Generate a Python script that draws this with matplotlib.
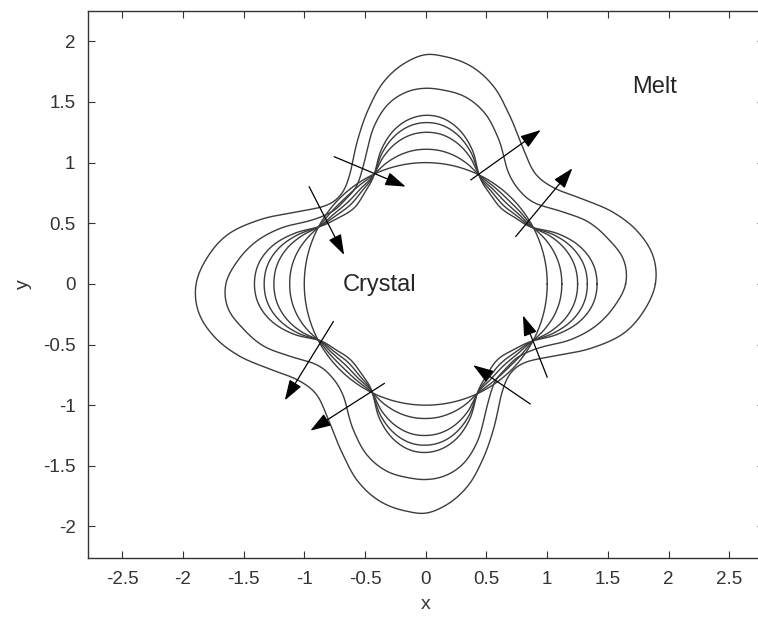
import numpy as np
import matplotlib
matplotlib.use("Agg")
import matplotlib.pyplot as plt

plt.rcParams['font.family'] = ['Liberation Sans', 'DejaVu Sans']
plt.rcParams['axes.unicode_minus'] = False

# ---- data (polar samples over the upper half; lower half is the 180-degree image) ----
theta_deg = [0, 7, 14, 21, 27.5, 36, 45, 54, 64, 71, 78, 85, 90, 95, 102, 108,
             115, 124, 133.5, 143, 152, 159, 166, 173]

r_c1 = [1.0, 1.0, 1.0, 1.0, 1.0, 1.0, 1.0, 1.0, 1.0, 1.0, 1.0, 1.0, 1.0, 1.0, 1.0, 1.0,
        1.0, 1.0, 1.0, 1.0, 1.0, 1.0, 1.0, 1.0]
r_c2 = [1.12, 1.113, 1.088, 1.047, 1.0, 0.98, 0.97, 0.977, 1.0, 1.048, 1.086, 1.107, 1.11, 1.105, 1.081, 1.048,
        1.0, 0.979, 0.97, 0.979, 1.0, 1.047, 1.088, 1.113]
r_c3 = [1.25, 1.235, 1.183, 1.098, 1.0, 0.96, 0.94, 0.955, 1.0, 1.11, 1.195, 1.243, 1.25, 1.238, 1.185, 1.11,
        1.0, 0.952, 0.93, 0.952, 1.0, 1.098, 1.183, 1.235]
r_c4 = [1.33, 1.31, 1.241, 1.129, 1.0, 0.94, 0.91, 0.932, 1.0, 1.145, 1.257, 1.32, 1.33, 1.314, 1.244, 1.145,
        1.0, 0.931, 0.90, 0.931, 1.0, 1.129, 1.241, 1.31]
r_c5 = [1.41, 1.385, 1.30, 1.16, 1.0, 0.92, 0.88, 0.909, 1.0, 1.172, 1.304, 1.378, 1.39, 1.37, 1.289, 1.172,
        1.0, 0.903, 0.86, 0.903, 1.0, 1.16, 1.30, 1.385]
r_c6 = [1.645, 1.64, 1.545, 1.43, 1.28, 1.125, 1.09, 1.15, 1.35, 1.49, 1.575, 1.605, 1.613, 1.595, 1.51, 1.37,
        1.165, 1.0, 0.96, 0.98, 1.10, 1.28, 1.44, 1.56]
r_c7 = [1.89, 1.885, 1.795, 1.65, 1.49, 1.33, 1.28, 1.37, 1.56, 1.72, 1.83, 1.88, 1.89, 1.835, 1.695, 1.52,
        1.32, 1.11, 1.015, 1.06, 1.25, 1.47, 1.68, 1.81]

arrow_tail_x = [0.37, 0.74, -0.754, -0.96, -0.76, -0.34, 1.00, 0.86]
arrow_tail_y = [0.857, 0.39, 1.049, 0.802, -0.31, -0.82, -0.77, -0.99]
arrow_tip_x = [0.947, 1.207, -0.165, -0.672, -1.16, -0.95, 0.80, 0.39]
arrow_tip_y = [1.269, 0.953, 0.802, 0.239, -0.96, -1.21, -0.26, -0.67]

labels_text = ["Melt", "Crystal"]
labels_x = [1.885, -0.38]
labels_y = [1.62, -0.01]

x_ticks = [-2.5, -2, -1.5, -1, -0.5, 0, 0.5, 1, 1.5, 2, 2.5]
y_ticks = [-2, -1.5, -1, -0.5, 0, 0.5, 1, 1.5, 2]


def smooth_closed(t, r, per=360.0, pts=30):
    """Closed cubic Hermite curve through periodic samples (t in degrees)."""
    t = np.asarray(t, float)
    r = np.asarray(r, float)
    n = len(t)
    tn = np.append(t, t[0] + per)
    rn = np.append(r, r[0])
    h = np.diff(tn)
    d = np.diff(rn) / h
    dp = np.roll(d, 1)
    hp = np.roll(h, 1)
    m = (dp * h + d * hp) / (hp + h)
    s = np.linspace(0, 1, pts, endpoint=False)
    h00 = 2 * s**3 - 3 * s**2 + 1
    h10 = s**3 - 2 * s**2 + s
    h01 = -2 * s**3 + 3 * s**2
    h11 = s**3 - s**2
    ot, orr = [], []
    for i in range(n):
        j = (i + 1) % n
        ot.append(t[i] + s * h[i])
        orr.append(h00 * r[i] + h10 * h[i] * m[i] + h01 * r[j] + h11 * h[i] * m[j])
    ot = np.concatenate(ot + [[t[0] + per]])
    orr = np.concatenate(orr + [[r[0]]])
    return ot, orr


fig = plt.figure(figsize=(7.58, 6.26), dpi=100)
ax = fig.add_axes([88 / 758, 68 / 626, 675.5 / 758, 547 / 626])

th = np.array(theta_deg, float)
th_full = np.concatenate([th, th + 180.0])
for rc in [r_c1, r_c2, r_c3, r_c4, r_c5, r_c6, r_c7]:
    r_full = np.concatenate([rc, rc])
    tt, rr = smooth_closed(th_full, r_full)
    ang = np.deg2rad(tt)
    ax.plot(rr * np.cos(ang), rr * np.sin(ang), color='#3c3c3c', lw=1.0)

for x0, y0, x1, y1 in zip(arrow_tail_x, arrow_tail_y, arrow_tip_x, arrow_tip_y):
    ax.annotate('', xy=(x1, y1), xytext=(x0, y0),
                arrowprops=dict(arrowstyle='-|>,head_length=0.9,head_width=0.3',
                                color='black', lw=0.9, mutation_scale=14,
                                shrinkA=0, shrinkB=0))

for txt, tx, ty in zip(labels_text, labels_x, labels_y):
    ax.text(tx, ty, txt, fontsize=17, color='#262626', ha='center', va='center')

ax.set_xlim(-2.78, 2.78)
ax.set_ylim(-2.26, 2.25)
ax.set_xticks(x_ticks)
ax.set_yticks(y_ticks)
ax.set_xticklabels([f"{v:g}" for v in x_ticks])
ax.set_yticklabels([f"{v:g}" for v in y_ticks])
ax.tick_params(direction='in', length=5, width=0.8, colors='#333333',
               labelsize=13.5, pad=9, top=True, right=True)
for sp in ax.spines.values():
    sp.set_color('#333333')
    sp.set_linewidth(1.0)
ax.set_xlabel('x', fontsize=14, color='#333333', labelpad=6)
ax.set_ylabel('y', fontsize=14, color='#333333', labelpad=8)

fig.savefig('out.png', dpi=100)
